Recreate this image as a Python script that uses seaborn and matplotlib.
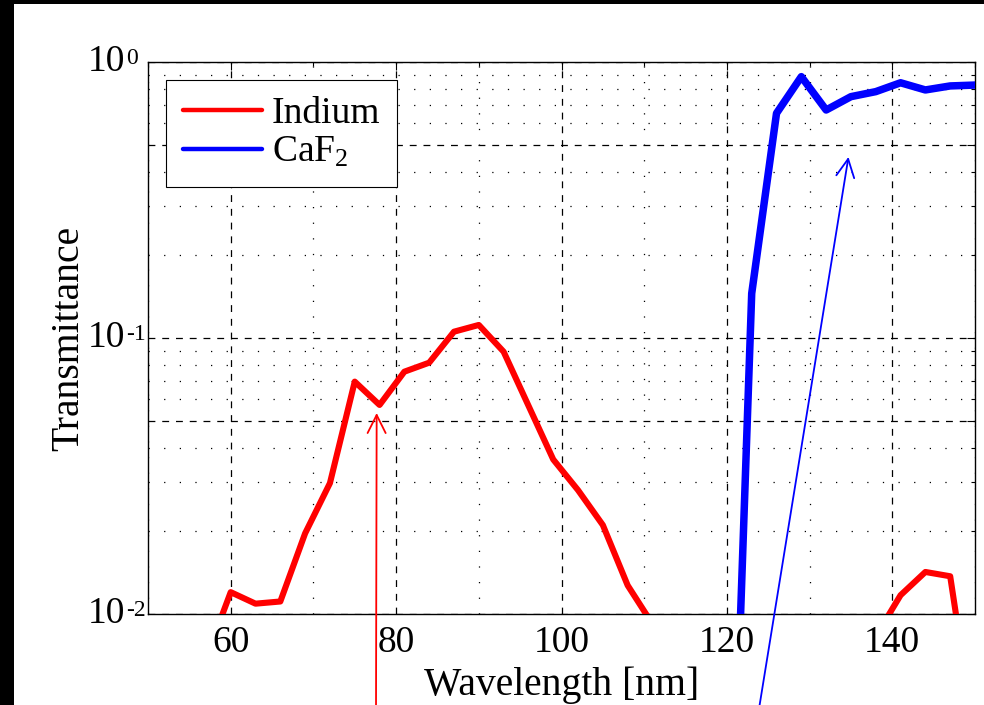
import numpy as np
import pandas as pd
import matplotlib
matplotlib.use("Agg")
import matplotlib.pyplot as plt
import matplotlib.ticker as mticker
import matplotlib.transforms as mtransforms
from matplotlib.patches import Rectangle
from matplotlib.lines import Line2D
import seaborn as sns

# ---- data ----
indium_wl_a = [57, 60, 63, 66, 69, 72, 75, 78, 81, 84, 87, 90, 93, 99, 102, 105, 108, 111]
indium_tr_a = [0.0069, 0.0120, 0.0109, 0.0111, 0.0196, 0.0298, 0.0695, 0.0572, 0.0755,
               0.0814, 0.1054, 0.1115, 0.0892, 0.0363, 0.0281, 0.0210, 0.0127, 0.0092]
indium_wl_b = [138, 141, 144, 147, 150]
indium_tr_b = [0.0083, 0.0117, 0.0142, 0.0137, 0.0035]
caf2_wl = [120, 123, 126, 129, 132, 135, 138, 141, 144, 147, 150]
caf2_tr = [0.00037, 0.145, 0.652, 0.885, 0.670, 0.749, 0.781, 0.841, 0.792, 0.819, 0.825]

x_ticks = [60, 80, 100, 120, 140]
y_major = [0.01, 0.05, 0.1, 0.5, 1.0]
y_decades = [0.01, 0.1, 1.0]
y_exponents = ["-2", "-1", "0"]

sns.set_style("white")
plt.rcParams["font.family"] = ["Liberation Serif", "DejaVu Serif"]
plt.rcParams["mathtext.fontset"] = "custom"
plt.rcParams["mathtext.rm"] = "Liberation Serif"
plt.rcParams["mathtext.it"] = "Liberation Serif:italic"
plt.rcParams["text.color"] = "black"
plt.rcParams["axes.labelcolor"] = "black"
plt.rcParams["xtick.color"] = "black"
plt.rcParams["ytick.color"] = "black"

FS = 27
LFS = 28.5

fig = plt.figure(figsize=(9.84, 7.05), dpi=100)
fig.patch.set_facecolor("white")
ax = fig.add_axes([148 / 984, 1 - 614 / 705, (975 - 148) / 984, (614 - 62) / 705])

df_a = pd.DataFrame({"wl": indium_wl_a, "tr": indium_tr_a})
df_b = pd.DataFrame({"wl": indium_wl_b, "tr": indium_tr_b})
df_c = pd.DataFrame({"wl": caf2_wl, "tr": caf2_tr})

sns.lineplot(data=df_a, x="wl", y="tr", ax=ax, color="#ff0000", lw=4.4,
             estimator=None, sort=False, zorder=3)
sns.lineplot(data=df_b, x="wl", y="tr", ax=ax, color="#ff0000", lw=4.4,
             estimator=None, sort=False, zorder=3)
sns.lineplot(data=df_c, x="wl", y="tr", ax=ax, color="#0000ff", lw=5.4,
             estimator=None, sort=False, zorder=3)

ax.set_yscale("log")
ax.set_xlim(50, 150)
ax.set_ylim(0.01, 1.0)

ax.xaxis.set_major_locator(mticker.FixedLocator(x_ticks))
ax.xaxis.set_minor_locator(mticker.FixedLocator([50, 70, 90, 110, 130, 150]))
ax.set_xticklabels([str(v) for v in x_ticks])

ax.yaxis.set_major_locator(mticker.FixedLocator(y_major))
minor_y = [k * 10.0 ** e for e in (-2, -1) for k in (2, 3, 4, 6, 7, 8, 9)]
ax.yaxis.set_minor_locator(mticker.FixedLocator(minor_y))
ax.yaxis.set_major_formatter(mticker.NullFormatter())
ax.yaxis.set_minor_formatter(mticker.NullFormatter())

# y tick labels drawn as "10" with a small exponent (as in the reference)
blend = mtransforms.blended_transform_factory(ax.transAxes, ax.transData)
x_lab = (125 - 148) / 827
for v, ex in zip(y_decades, y_exponents):
    ax.text(x_lab, v, "10", transform=blend, ha="right", va="center", fontsize=FS)
    ax.annotate(ex, xy=(x_lab, v), xycoords=blend, xytext=(0.5, 2.5),
                textcoords="offset points", ha="left", va="center", fontsize=17,
                annotation_clip=False)

ax.grid(True, which="major", color="black", lw=0.9, linestyle=(0, (5.5, 5.5)), zorder=1)
ax.grid(True, which="minor", color="black", lw=0.9, linestyle=(0, (1, 11.5)), zorder=1)
ax.set_axisbelow(True)

ax.tick_params(axis="both", which="both", direction="in", top=True, right=True,
               colors="black", labelsize=FS, width=0.8)
ax.tick_params(axis="both", which="major", length=6)
ax.tick_params(axis="both", which="minor", length=3)
ax.tick_params(axis="x", pad=8)

for s in ax.spines.values():
    s.set_color("black")
    s.set_linewidth(1.0)

ax.set_xlabel("Wavelength [nm]", fontsize=LFS)
ax.set_ylabel("Transmittance", fontsize=LFS)
ax.xaxis.set_label_coords(0.5, -0.096)
ax.yaxis.set_label_coords(-0.074, 0.5)

handles = [Line2D([], [], color="#ff0000", lw=3.2), Line2D([], [], color="#0000ff", lw=3.2)]
leg = ax.legend(handles, ["Indium", r"CaF$_2$"], loc="upper left", fontsize=FS,
                frameon=True, fancybox=False, framealpha=1, edgecolor="black",
                handlelength=2.1, handletextpad=0.27, borderpad=0.45, labelspacing=0.1,
                borderaxespad=0.0, bbox_to_anchor=(18 / 827, 1 - 18 / 552))
leg.get_frame().set_linewidth(0.8)

# arrows pointing to features
ax.annotate("", xy=(77.65, 0.0535), xycoords="data",
            xytext=(376, -10), textcoords="figure pixels",
            arrowprops=dict(arrowstyle="->,head_length=1.3,head_width=0.65",
                            color="#ff0000", lw=1.3, shrinkA=0, shrinkB=0),
            annotation_clip=False)
ax.annotate("", xy=(134.7, 0.453), xycoords="data",
            xytext=(758, -10), textcoords="figure pixels",
            arrowprops=dict(arrowstyle="->,head_length=1.3,head_width=0.65",
                            color="#0000ff", lw=1.3, shrinkA=0, shrinkB=0),
            annotation_clip=False)

# black frame strips at top and left edges
fig.patches.append(Rectangle((0, 1 - 4 / 705), 1, 4 / 705, transform=fig.transFigure,
                             facecolor="black", edgecolor="none", zorder=10))
fig.patches.append(Rectangle((0, 0), 14 / 984, 1, transform=fig.transFigure,
                             facecolor="black", edgecolor="none", zorder=10))

fig.savefig("out.png", dpi=100)
